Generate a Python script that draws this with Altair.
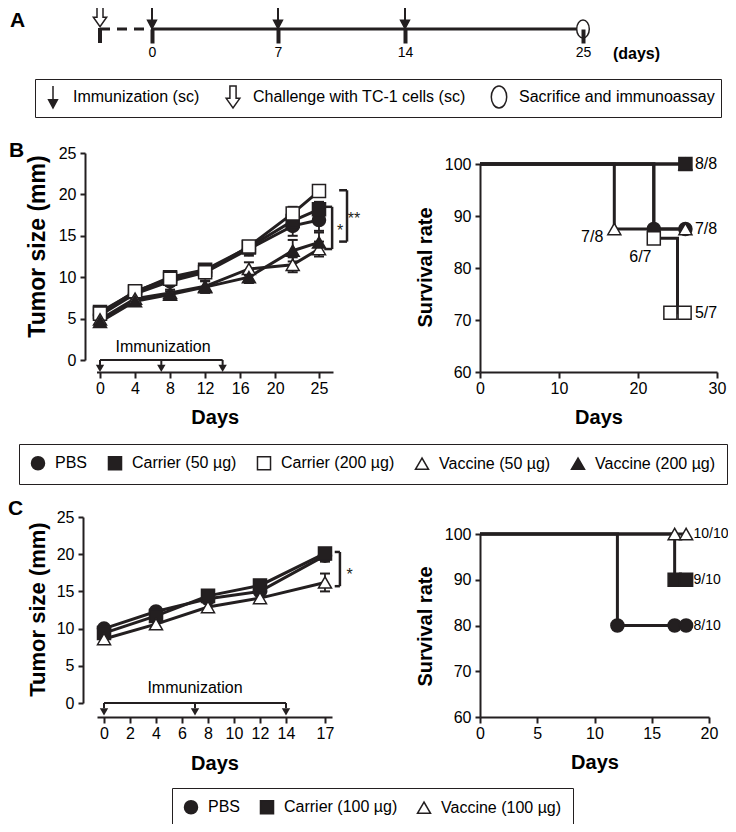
import altair as alt
import pandas as pd

FONT = "Liberation Sans"
INK = "#231f20"
W, H = 720, 816
MARGIN = 8


def P(v):
    """page pixel -> chart pixel"""
    return v - MARGIN


# ---------------- Panel A: schedule ----------------
events = ["Immunization (sc)", "Challenge with TC-1 cells (sc)", "Sacrifice and immunoassay"]
immun_days = [0, 7, 14]
challenge_day = -2.9
sacrifice_day = 25
timeline_ticks = [0, 7, 14, 25]

# ---------------- Panel B: tumor size ----------------
groups_B = ["PBS", "Carrier (50 µg)", "Carrier (200 µg)", "Vaccine (50 µg)", "Vaccine (200 µg)"]
days_B = [0, 4, 8, 12, 17, 22, 25]
pbs_B = [5.4, 8.0, 9.5, 10.6, 13.4, 16.2, 16.9]
c50_B = [5.8, 8.2, 10.0, 10.9, 13.6, 16.8, 18.2]
c200_B = [5.6, 8.3, 9.8, 10.6, 13.7, 17.7, 20.4]
v50_B = [4.9, 7.4, 8.1, 8.9, 11.0, 11.5, 13.4]
v200_B = [4.6, 7.1, 7.9, 8.8, 10.0, 13.2, 14.2]
pbs_B_err = [0.4, 0.5, 0.5, 0.6, 0.8, 1.2, 1.3]
c50_B_err = [0.4, 0.5, 0.5, 0.6, 0.7, 1.0, 0.9]
c200_B_err = [0.4, 0.4, 0.5, 0.5, 0.6, 0.8, 0.6]
v50_B_err = [0.4, 0.6, 0.4, 0.7, 0.8, 0.9, 0.9]
v200_B_err = [0.4, 0.5, 0.4, 0.7, 0.7, 1.3, 1.2]

brkB_x = [26.5, 28.2]
brkB_stub = [25.6, 27.3]
brkB_lo = [13.4, 14.3]
brkB_hi = [18.5, 20.5]
starB_text = ["*", "**"]
starB_x = [27.4, 29.0]
starB_y = [15.6, 17.0]

# ---------------- Panel B: survival ----------------
survB_days = {
    "PBS": [0, 22, 26],
    "Carrier (50 µg)": [0, 26],
    "Carrier (200 µg)": [0, 22, 25, 26],
    "Vaccine (50 µg)": [0, 17, 26],
    "Vaccine (200 µg)": [0, 26],
}
survB_vals = {
    "PBS": [100, 87.5, 87.5],
    "Carrier (50 µg)": [100, 100],
    "Carrier (200 µg)": [100, 85.7, 71.4, 71.4],
    "Vaccine (50 µg)": [100, 87.5, 87.5],
    "Vaccine (200 µg)": [100, 100],
}
markB_group = ["Vaccine (200 µg)", "PBS", "PBS", "Carrier (50 µg)", "Carrier (200 µg)",
               "Carrier (200 µg)", "Carrier (200 µg)", "Vaccine (50 µg)", "Vaccine (50 µg)"]
markB_day = [26, 22, 26, 26, 22, 24.1, 25.9, 17, 26]
markB_val = [100, 87.5, 87.5, 100, 85.7, 71.4, 71.4, 87.5, 87.5]
labB_right = ["8/8", "7/8", "5/7"]
labB_right_y = [100, 87.5, 71.4]
labB_right_x = 27.2
labB_in = ["7/8", "6/7"]
labB_in_x = [14.2, 20.3]
labB_in_y = [86.0, 82.1]

# ---------------- Panel C: tumor size ----------------
groups_C = ["PBS", "Carrier (100 µg)", "Vaccine (100 µg)"]
days_C = [0, 4, 8, 12, 17]
pbs_C = [10.0, 12.3, 14.0, 15.0, 19.8]
car_C = [9.4, 11.7, 14.4, 15.8, 20.1]
vac_C = [8.6, 10.6, 12.9, 14.1, 16.2]
pbs_C_err = [0.3, 0.3, 0.4, 0.5, 0.8]
car_C_err = [0.3, 0.4, 0.4, 0.5, 0.6]
vac_C_err = [0.4, 0.4, 0.5, 0.6, 1.2]
brkC_x = [18.15]
brkC_stub = [17.75]
brkC_lo = [15.7]
brkC_hi = [20.3]
starC_text = ["*"]
starC_x = [18.9]
starC_y = [17.2]

# ---------------- Panel C: survival ----------------
survC_days = {"PBS": [0, 12, 18], "Carrier (100 µg)": [0, 17, 18], "Vaccine (100 µg)": [0, 18]}
survC_vals = {"PBS": [100, 80, 80], "Carrier (100 µg)": [100, 90, 90], "Vaccine (100 µg)": [100, 100]}
markC_group = ["PBS", "PBS", "PBS", "Carrier (100 µg)", "Carrier (100 µg)", "Vaccine (100 µg)", "Vaccine (100 µg)"]
markC_day = [12, 17, 18, 17, 18, 17, 18]
markC_val = [80, 80, 80, 90, 90, 100, 100]
labC_right = ["10/10", "9/10", "8/10"]
labC_right_y = [100, 90, 80]
labC_right_x = 18.65


# ---------------- helpers ----------------
def axis(**kw):
    base = dict(grid=False, domainColor=INK, domainWidth=2, tickColor=INK, tickWidth=2, tickSize=5,
                labelFont=FONT, labelFontSize=16, labelColor="black", labelFlush=False,
                labelOverlap=False, labelPadding=3, titleFont=FONT, titleFontSize=20,
                titleFontWeight="bold", titleColor="black", titleAlign="center",
                titleBaseline="middle", zindex=1)
    base.update(kw)
    return alt.Axis(**base)


def scale(dom, rng):
    return alt.Scale(domain=dom, range=rng, nice=False, zero=False)


def legend(x, y, pad, colpad, size, offset):
    return alt.Legend(title=None, orient="none", legendX=x, legendY=y, direction="horizontal",
                      strokeColor=INK, fillColor="white", padding=pad, columnPadding=colpad,
                      labelFont=FONT, labelFontSize=16, labelColor="black", labelOffset=offset,
                      labelLimit=400, symbolSize=size, symbolStrokeWidth=1.5)


def panel_label(letter, x, y):
    return alt.Chart(pd.DataFrame({"t": [letter]})).mark_text(
        font=FONT, fontSize=21, fontWeight="bold", align="left", baseline="middle", color="black"
    ).encode(text="t:N", x=alt.value(x), y=alt.value(y))


def tumor_df(groups, days, vals, errs):
    rows = []
    for g, vs, es in zip(groups, vals, errs):
        for d, v, e in zip(days, vs, es):
            rows.append({"day": d, "size": v, "lo": v - e, "hi": v + e, "group": g})
    return pd.DataFrame(rows)


def bracket_df(xs, stubs, los, his):
    rows = []
    for xv, s, lo, hi in zip(xs, stubs, los, his):
        rows.append({"x": s, "x2": xv, "y": hi, "y2": hi})
        rows.append({"x": xv, "x2": xv, "y": hi, "y2": lo})
        rows.append({"x": s, "x2": xv, "y": lo, "y2": lo})
    return pd.DataFrame(rows)


def group_encodings(groups, shapes, fills, leg):
    return dict(
        shape=alt.Shape("group:N", scale=alt.Scale(domain=groups, range=shapes), legend=leg),
        fill=alt.Fill("group:N", scale=alt.Scale(domain=groups, range=fills), legend=leg),
        stroke=alt.Stroke("group:N", scale=alt.Scale(domain=groups, range=[INK] * len(groups)), legend=leg),
    )


def tumor_panel(df, groups, shapes, fills, leg, xs, ys, xax, yax, imm_y, imm_txt_pos, brk, stars, label):
    X = lambda f, a=None: alt.X(f, scale=xs, axis=a)
    Y = lambda f, a=None: alt.Y(f, scale=ys, axis=a)
    lines = alt.Chart(df).mark_line(color=INK, strokeWidth=3).encode(
        x=X("day:Q", xax), y=Y("size:Q", yax), detail="group:N", order="day:Q")
    err = alt.Chart(df).mark_rule(color=INK, strokeWidth=1.8).encode(
        x=X("day:Q"), y=Y("lo:Q"), y2="hi:Q")
    cap_lo = alt.Chart(df).mark_tick(orient="horizontal", color=INK, size=10, thickness=2, opacity=1).encode(
        x=X("day:Q"), y=Y("lo:Q"))
    cap_hi = alt.Chart(df).mark_tick(orient="horizontal", color=INK, size=10, thickness=2, opacity=1).encode(
        x=X("day:Q"), y=Y("hi:Q"))
    pts = alt.Chart(df).mark_point(filled=True, size=170, strokeWidth=1.5, opacity=1).encode(
        x=X("day:Q"), y=Y("size:Q"), **group_encodings(groups, shapes, fills, leg))
    imm = pd.DataFrame({"day": immun_days, "y0": [0] * 3, "y1": [imm_y[0]] * 3, "yh": [imm_y[1]] * 3})
    imm_h = alt.Chart(pd.DataFrame({"a": [min(immun_days)], "b": [max(immun_days)], "y": [0]})).mark_rule(
        color=INK, strokeWidth=2).encode(x=X("a:Q"), x2="b:Q", y=Y("y:Q"))
    imm_v = alt.Chart(imm).mark_rule(color=INK, strokeWidth=2).encode(x=X("day:Q"), y=Y("y0:Q"), y2="y1:Q")
    imm_head = alt.Chart(imm).mark_point(shape="triangle-down", filled=True, size=70, color=INK, opacity=1).encode(
        x=X("day:Q"), y=Y("yh:Q"))
    imm_txt = alt.Chart(pd.DataFrame({"x": [imm_txt_pos[0]], "y": [imm_txt_pos[1]], "t": ["Immunization"]})).mark_text(
        font=FONT, fontSize=16, color="black", baseline="middle").encode(x=X("x:Q"), y=Y("y:Q"), text="t:N")
    brk_l = alt.Chart(brk).mark_rule(color=INK, strokeWidth=2.5).encode(
        x=X("x:Q"), x2="x2:Q", y=Y("y:Q"), y2="y2:Q")
    star = alt.Chart(stars).mark_text(font=FONT, fontSize=16, color=INK, align="center", baseline="middle").encode(
        x=X("x:Q"), y=Y("y:Q"), text="t:N")
    return [lines, err, cap_lo, cap_hi, pts, imm_h, imm_v, imm_head, imm_txt, brk_l, star, label]


def surv_panel(steps, marks, groups, shapes, fills, labels_right, labels_in, xs, ys, xax, yax, fsize):
    X = lambda f, a=None: alt.X(f, scale=xs, axis=a)
    Y = lambda f, a=None: alt.Y(f, scale=ys, axis=a)
    lines = alt.Chart(steps).mark_line(interpolate="step-after", color=INK, strokeWidth=3).encode(
        x=X("day:Q", xax), y=Y("surv:Q", yax), detail="group:N", order="day:Q")
    pts = alt.Chart(marks).mark_point(filled=True, size=170, strokeWidth=1.5, opacity=1).encode(
        x=X("day:Q"), y=Y("surv:Q"), **group_encodings(groups, shapes, fills, None))
    layers = [lines, pts]
    layers.append(alt.Chart(labels_right).mark_text(font=FONT, fontSize=fsize, color="black", align="left",
                                                    baseline="middle").encode(
        x=X("x:Q"), y=Y("y:Q"), text="t:N"))
    if labels_in is not None:
        layers.append(alt.Chart(labels_in).mark_text(font=FONT, fontSize=16, color="black", align="center",
                                                     baseline="middle").encode(
            x=X("x:Q"), y=Y("y:Q"), text="t:N"))
    return layers


# ---------------- Panel A ----------------
ARROW = "M0,-1L0,0.3M-0.4,0.25L0.4,0.25L0,1Z"
HOLLOW = "M-0.28,-1L0.28,-1L0.28,0.12L0.62,0.12L0,1L-0.62,0.12L-0.28,0.12Z"
ELLIPSE = "M0.7,0A0.7,1,0,1,1,-0.7,0A0.7,1,0,1,1,0.7,0Z"

xA = scale([challenge_day, 0, 7, 14, 25], [P(100), P(152), P(278), P(405), P(583)])
legA = legend(P(35), P(79), 6, 21, 484, 8)
axA = axis(orient="bottom", offset=P(29) - H, values=timeline_ticks, domain=False, tickWidth=4,
           tickSize=14, labelFontSize=14, labelPadding=2, title="(days)", titleX=P(636), titleY=24,
           titleFontSize=16)

tl = alt.Chart(pd.DataFrame({"a": [0], "b": [sacrifice_day]})).mark_rule(color=INK, strokeWidth=3).encode(
    x=alt.X("a:Q", scale=xA, axis=axA), x2="b:Q", y=alt.value(P(29)))
tl_dash = alt.Chart(pd.DataFrame({"a": [challenge_day], "b": [0]})).mark_rule(
    color=INK, strokeWidth=3, strokeDash=[10, 7]).encode(
    x=alt.X("a:Q", scale=xA, axis=None), x2="b:Q", y=alt.value(P(29)))
tl_start = alt.Chart(pd.DataFrame({"a": [challenge_day]})).mark_rule(color=INK, strokeWidth=4).encode(
    x=alt.X("a:Q", scale=xA, axis=None), y=alt.value(P(28)), y2=alt.value(P(43)))


def ev_layer(days, ev, y, size, sw, leg):
    df = pd.DataFrame({"day": days, "group": [ev] * len(days)})
    return alt.Chart(df).mark_point(filled=True, size=size, strokeWidth=sw, opacity=1).encode(
        x=alt.X("day:Q", scale=xA, axis=None), y=alt.value(y),
        **group_encodings(events, [ARROW, HOLLOW, ELLIPSE], [INK, "white", "white"], leg))


panelA = [
    tl, tl_dash, tl_start,
    ev_layer(immun_days, events[0], P(18), 400, 2, legA),
    ev_layer([challenge_day], events[1], P(16), 460, 1.5, None),
    ev_layer([sacrifice_day], events[2], P(29), 324, 1.5, None),
    panel_label("A", P(10), P(21)),
]

# ---------------- Panel B ----------------
shapes_B = ["circle", "square", "square", "triangle-up", "triangle-up"]
fills_B = [INK, INK, "white", "white", INK]
legB = legend(P(19), P(444), 11, 17, 170, 9)

dfB = tumor_df(groups_B, days_B, [pbs_B, c50_B, c200_B, v50_B, v200_B],
               [pbs_B_err, c50_B_err, c200_B_err, v50_B_err, v200_B_err])
xB1 = scale([-0.4, 26.6], [P(96.5), P(333)])
yB1 = scale([0, 25], [P(360), P(153)])
xaxB1 = axis(orient="bottom", offset=P(372) - H, values=[0, 4, 8, 12, 16, 20, 25], tickSize=6,
             labelPadding=2, title="Days", titleY=45)
yaxB1 = axis(orient="left", offset=-P(85), values=[0, 5, 10, 15, 20, 25], labelPadding=4,
             title="Tumor size (mm)", titleAngle=270, titleX=P(37) - P(85), titleY=P(246),
             titleFontSize=23)
brkB = bracket_df(brkB_x, brkB_stub, brkB_lo, brkB_hi)
starsB = pd.DataFrame({"x": starB_x, "y": starB_y, "t": starB_text})
panelB1 = tumor_panel(dfB, groups_B, shapes_B, fills_B, legB, xB1, yB1, xaxB1, yaxB1, (-0.6, -1.0),
                      (7.2, 1.6), brkB, starsB, panel_label("B", P(9), P(151)))

stepsB = pd.DataFrame([{"day": d, "surv": v, "group": g}
                       for g in groups_B for d, v in zip(survB_days[g], survB_vals[g])])
marksB = pd.DataFrame({"day": markB_day, "surv": markB_val, "group": markB_group})
labRB = pd.DataFrame({"x": [labB_right_x] * 3, "y": labB_right_y, "t": labB_right})
labIB = pd.DataFrame({"x": labB_in_x, "y": labB_in_y, "t": labB_in})
xB2 = scale([0, 30], [P(480), P(717)])
yB2 = scale([60, 100], [P(372), P(164)])
xaxB2 = axis(orient="bottom", offset=P(372) - H, values=[0, 10, 20, 30], tickSize=6, labelPadding=2,
             title="Days", titleY=45)
yaxB2 = axis(orient="left", offset=-P(480), values=[60, 70, 80, 90, 100], labelPadding=4,
             title="Survival rate", titleAngle=270, titleX=P(425) - P(480), titleY=P(267))
panelB2 = surv_panel(stepsB, marksB, groups_B, shapes_B, fills_B, labRB, labIB, xB2, yB2, xaxB2, yaxB2, 16)

# ---------------- Panel C ----------------
shapes_C = ["circle", "square", "triangle-up"]
fills_C = [INK, INK, "white"]
legC = legend(P(172), P(788), 11, 16, 170, 9)

dfC = tumor_df(groups_C, days_C, [pbs_C, car_C, vac_C], [pbs_C_err, car_C_err, vac_C_err])
xC1 = scale([-0.54, 17.54], [P(97), P(332)])
yC1 = scale([0, 25], [P(703), P(517)])
xaxC1 = axis(orient="bottom", offset=P(717) - H, values=[0, 2, 4, 6, 8, 10, 12, 14, 17], tickSize=6,
             labelPadding=2, title="Days", titleY=46)
yaxC1 = axis(orient="left", offset=-P(83), values=[0, 5, 10, 15, 20, 25], labelPadding=4,
             title="Tumor size (mm)", titleAngle=270, titleX=P(37) - P(83), titleY=P(609),
             titleFontSize=22)
brkC = bracket_df(brkC_x, brkC_stub, brkC_lo, brkC_hi)
starsC = pd.DataFrame({"x": starC_x, "y": starC_y, "t": starC_text})
panelC1 = tumor_panel(dfC, groups_C, shapes_C, fills_C, legC, xC1, yC1, xaxC1, yaxC1, (-0.7, -1.2),
                      (7.0, 2.0), brkC, starsC, panel_label("C", P(8), P(509)))

stepsC = pd.DataFrame([{"day": d, "surv": v, "group": g}
                       for g in groups_C for d, v in zip(survC_days[g], survC_vals[g])])
marksC = pd.DataFrame({"day": markC_day, "surv": markC_val, "group": markC_group})
labRC = pd.DataFrame({"x": [labC_right_x] * 3, "y": labC_right_y, "t": labC_right})
xC2 = scale([0, 20], [P(480), P(709)])
yC2 = scale([60, 100], [P(717), P(534)])
xaxC2 = axis(orient="bottom", offset=P(717) - H, values=[0, 5, 10, 15, 20], tickSize=6, labelPadding=2,
             title="Days", titleY=45)
yaxC2 = axis(orient="left", offset=-P(480), values=[60, 70, 80, 90, 100], labelPadding=4,
             title="Survival rate", titleAngle=270, titleX=P(425) - P(480), titleY=P(626))
panelC2 = surv_panel(stepsC, marksC, groups_C, shapes_C, fills_C, labRC, None, xC2, yC2, xaxC2, yaxC2, 14)

chart = alt.layer(*(panelA + panelB1 + panelB2 + panelC1 + panelC2)).resolve_scale(
    x="independent", y="independent", shape="independent", fill="independent", stroke="independent"
).resolve_axis(x="independent", y="independent").resolve_legend(
    shape="independent", fill="independent", stroke="independent"
).properties(
    width=W, height=H, autosize=alt.AutoSizeParams(type="none"), padding=0
).configure_view(stroke=None)

chart.save("out.html", embed_options={"renderer": "svg", "actions": False})
